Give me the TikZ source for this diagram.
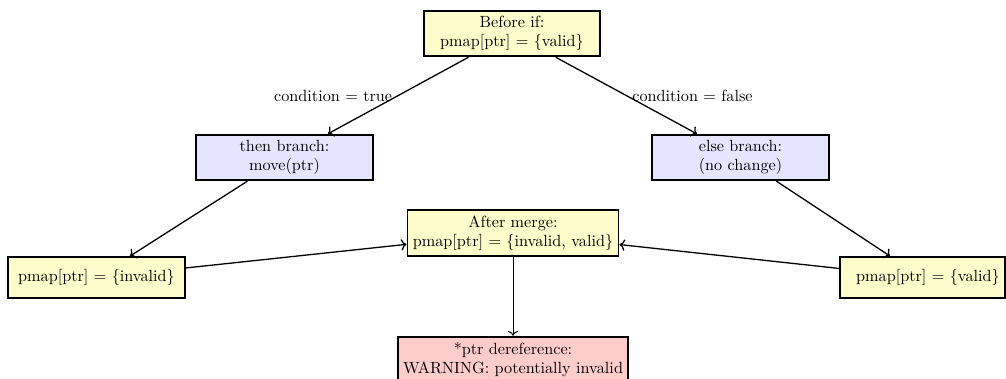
\documentclass[tikz,border=0pt]{standalone}
\usetikzlibrary{arrows.meta}
\begin{document}
\begin{tikzpicture}[x=0.6173pt,y=-0.6173pt,
  statebox/.style={draw=black,line width=1.1pt,fill=yellow!20,align=center,
    minimum width=109pt,minimum height=25.3pt,inner sep=3.33pt},
  branchbox/.style={statebox,fill=blue!10},
  warnbox/.style={statebox,fill=red!20},
  flow/.style={->,thick}]
  \useasboundingbox (0,0) rectangle (1006,379);

  % program states and branches
  \node[statebox]  (before) at (512,33.5)  {Before if:\\pmap[ptr] $=$ \{valid\}};
  \node[branchbox] (then)   at (284.5,157.5) {then branch:\\move(ptr)};
  \node[branchbox] (else)   at (740.5,157.5) {else branch:\\(no change)};
  \node[statebox]  (inv)    at (96.5,277.5)  {pmap[ptr] $=$ \{invalid\}};
  \node[statebox]  (merge)  at (513,233)     {After merge:\\pmap[ptr] $=$ \{invalid, valid\}};
  \node[statebox,minimum width=101.9pt] (valid) at (922.5,277.5)
    {\hspace*{6.8pt}pmap[ptr] $=$ \{valid\}};
  \node[warnbox]   (warn)   at (513,359.5)   {*ptr dereference:\\WARNING: potentially invalid};

  % control flow
  \draw[flow] (before) -- node[left]  {condition $=$ true}  (then);
  \draw[flow] (before) -- node[right] {condition $=$ false} (else);
  \draw[flow] (then)  -- (inv);
  \draw[flow] (else)  -- (valid);
  \draw[flow] (inv)   -- (merge);
  \draw[flow] (valid) -- (merge);
  \draw[flow,semithick] (merge) -- (warn);
\end{tikzpicture}
\end{document}
